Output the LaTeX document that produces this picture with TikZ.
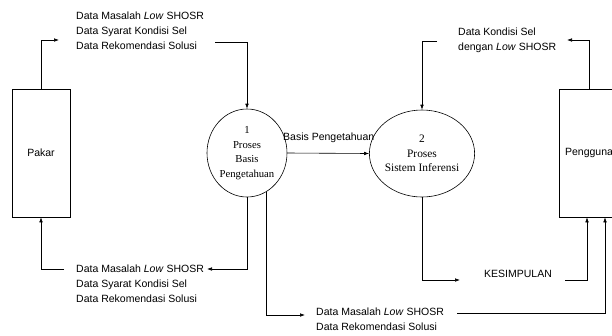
\documentclass[tikz,border=0pt]{standalone}
\usepackage{fontspec}
\setmainfont{Liberation Serif}
\setsansfont{Liberation Sans}
\usetikzlibrary{arrows.meta,shapes.geometric}

\tikzset{
  entity/.style={draw, line width=0.6pt, rectangle, minimum width=58pt, minimum height=128pt,
    inner sep=0pt, font=\sffamily\fontsize{10.5}{12}\selectfont},
  process/.style={draw, line width=0.6pt, ellipse, minimum width=80pt, minimum height=88pt,
    inner sep=0pt, align=center, font=\rmfamily\fontsize{10.7}{14.6}\selectfont},
  flowtext/.style={anchor=west, inner sep=0pt, align=left,
    font=\sffamily\fontsize{10.5}{15}\selectfont},
  flow/.style={line width=0.6pt, -{Latex[length=5pt,width=3.6pt]}},
}

\begin{document}
\begin{tikzpicture}[x=1pt,y=-1pt]
\useasboundingbox (0,0) rectangle (612,335);

% external entities
\node[entity] (pakar) at (41,153) {Pakar};
\node[entity, minimum width=60pt] (pengguna) at (589,153) {Pengguna};

% processes
\node[process] (p1) at (247,153) {1\\Proses\\Basis\\Pengetahuan};
\node[process, minimum width=78pt, minimum height=87pt,
      font=\rmfamily\fontsize{11.4}{14.6}\selectfont] (p2) at (422,153.5)
  {2\\Proses\\Sistem Inferensi};

% data flow labels
\node[flowtext] (lbl1) at (76,31) {Data Masalah \textit{Low} SHOSR\\Data Syarat Kondisi Sel\\Data Rekomendasi Solusi};
\node[flowtext] (lbl2) at (76,284) {Data Masalah \textit{Low} SHOSR\\Data Syarat Kondisi Sel\\Data Rekomendasi Solusi};
\node[flowtext] (lbl3) at (458,40) {Data Kondisi Sel\\dengan \textit{Low} SHOSR};
\node[flowtext] (lbl4) at (316,319.5) {Data Masalah \textit{Low} SHOSR\\Data Rekomendasi Solusi};
\node[flowtext] (lbl5) at (484,274) {KESIMPULAN};
\node[flowtext, anchor=south west] (lbl6) at (283,143) {Basis Pengetahuan};

% connector end points beside the labels
\coordinate (a1) at (59,40);
\coordinate (a2) at (215,42);
\coordinate (a3) at (207,269);
\coordinate (a4) at (64,269);
\coordinate (a5) at (305,315);
\coordinate (a6) at (457,313);
\coordinate (a7) at (460,280);
\coordinate (a8) at (565,280);
\coordinate (a9) at (567,40);
\coordinate (a10) at (437,41);

% Pakar -> process 1
\draw[flow] (pakar.north) |- (a1);
\draw[flow] (a2) -| (p1.north);
% process 1 -> Pakar
\draw[flow] (p1.south) |- (a3);
\draw[flow] (a4) -| (pakar.south);
% process 1 -> process 2
\draw[flow] (p1.east) -- (p2.west);
% process 1 -> Pengguna
\draw[flow] (p1.-64) |- (a5);
\draw[flow] (a6) -| ([xshift=16pt]pengguna.south);
% Pengguna -> process 2
\draw[flow] (pengguna.north) |- (a9);
\draw[flow] (a10) -| (p2.north);
% process 2 -> Pengguna
\draw[flow] (p2.south) |- (a7);
\draw[flow] (a8) -| ([xshift=-2pt]pengguna.south);
\end{tikzpicture}
\end{document}
